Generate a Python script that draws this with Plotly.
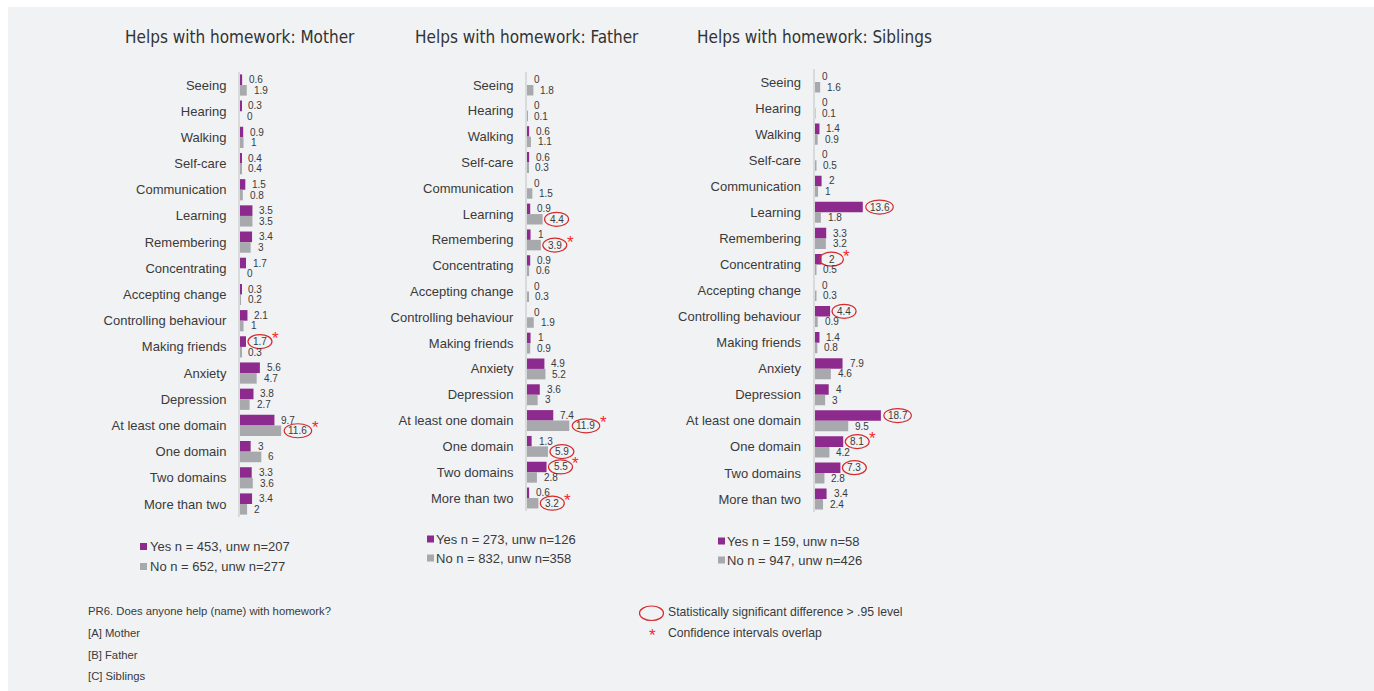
import plotly.graph_objects as go

# ---------------------------------------------------------------- data
categories = [
    "Seeing", "Hearing", "Walking", "Self-care", "Communication", "Learning",
    "Remembering", "Concentrating", "Accepting change", "Controlling behaviour",
    "Making friends", "Anxiety", "Depression", "At least one domain",
    "One domain", "Two domains", "More than two",
]

panel_titles = [
    "Helps with homework: Mother",
    "Helps with homework: Father",
    "Helps with homework: Siblings",
]

mother_yes = [0.6, 0.3, 0.9, 0.4, 1.5, 3.5, 3.4, 1.7, 0.3, 2.1, 1.7, 5.6, 3.8, 9.7, 3, 3.3, 3.4]
mother_no = [1.9, 0, 1, 0.4, 0.8, 3.5, 3, 0, 0.2, 1, 0.3, 4.7, 2.7, 11.6, 6, 3.6, 2]

father_yes = [0, 0, 0.6, 0.6, 0, 0.9, 1, 0.9, 0, 0, 1, 4.9, 3.6, 7.4, 1.3, 5.5, 0.6]
father_no = [1.8, 0.1, 1.1, 0.3, 1.5, 4.4, 3.9, 0.6, 0.3, 1.9, 0.9, 5.2, 3, 11.9, 5.9, 2.8, 3.2]

siblings_yes = [0, 0, 1.4, 0, 2, 13.6, 3.3, 2, 0, 4.4, 1.4, 7.9, 4, 18.7, 8.1, 7.3, 3.4]
siblings_no = [1.6, 0.1, 0.9, 0.5, 1, 1.8, 3.2, 0.5, 0.3, 0.9, 0.8, 4.6, 3, 9.5, 4.2, 2.8, 2.4]

legend_yes = ["Yes n = 453, unw n=207", "Yes n = 273, unw n=126", "Yes n = 159, unw n=58"]
legend_no = ["No n = 652, unw n=277", "No n = 832, unw n=358", "No n = 947, unw n=426"]

# significant differences (circled) and overlapping confidence intervals (starred)
mother_circled = [("Making friends", "Yes"), ("At least one domain", "No")]
mother_starred = [("Making friends", "Yes"), ("At least one domain", "No")]
father_circled = [("Learning", "No"), ("Remembering", "No"), ("At least one domain", "No"),
                  ("One domain", "No"), ("Two domains", "Yes"), ("More than two", "No")]
father_starred = [("Remembering", "No"), ("At least one domain", "No"),
                  ("Two domains", "Yes"), ("More than two", "No")]
siblings_circled = [("Learning", "Yes"), ("Concentrating", "Yes"), ("Controlling behaviour", "Yes"),
                    ("At least one domain", "Yes"), ("One domain", "Yes"), ("Two domains", "Yes")]
siblings_starred = [("Concentrating", "Yes"), ("One domain", "Yes")]

notes = [
    "PR6. Does anyone help (name) with homework?",
    "[A] Mother",
    "[B] Father",
    "[C] Siblings",
]
key_labels = ["Statistically significant difference > .95 level", "Confidence intervals overlap"]

# ---------------------------------------------------------------- style / geometry
W, H = 1374, 691
PURPLE = "#8d2a8d"
GREY = "#a8a9ad"
RED = "#d52a2e"
STAR_RED = "#f5282d"
TEXT = "#3a3a3a"
BG = "#f1f2f4"
FONT = "Liberation Sans, Arial, sans-serif"
TITLE_FONT = "Liberation Sans Narrow, DejaVu Sans Condensed, Roboto, sans-serif"

PX_PER_UNIT = 3.55
XMAX = 40
BARGAP = 0.19
HALF = (1 - BARGAP) / 4          # centre offset of each bar inside its group
LABEL_SHIFT = 5
VALUE_SIZE = 10

panels = [
    dict(yes=mother_yes, no=mother_no, circled=mother_circled, starred=mother_starred,
         left=240, first=85, last=504, leg_y=(546.5, 566.5), leg_sq=140, leg_tx=148),
    dict(yes=father_yes, no=father_no, circled=father_circled, starred=father_starred,
         left=527, first=85, last=498, leg_y=(539, 558), leg_sq=427, leg_tx=434),
    dict(yes=siblings_yes, no=siblings_no, circled=siblings_circled, starred=siblings_starred,
         left=814.5, first=82, last=499, leg_y=(541, 560), leg_sq=718, leg_tx=725),
]


def fx(px):
    return px / W


def fy(py):
    return 1 - py / H


def fmt(v):
    return f"{v:g}"


def text_width(s, size):
    widths = {".": 0.278, "-": 0.333}
    return sum(widths.get(c, 0.556) for c in s) * size


fig = go.Figure()
annotations = []
shapes = [
    dict(type="rect", xref="paper", yref="paper", x0=fx(8), x1=1, y0=0, y1=fy(7),
         fillcolor=BG, line=dict(width=0), layer="below"),
]

n = len(categories)
for k, p in enumerate(panels):
    sfx = "" if k == 0 else str(k + 1)
    xa, ya = "x" + sfx, "y" + sfx
    step = (p["last"] - p["first"]) / (n - 1)
    top, bottom = p["first"] - step / 2, p["last"] + step / 2

    fig.add_trace(go.Bar(y=categories, x=p["yes"], orientation="h", name="Yes",
                         marker=dict(color=PURPLE, line=dict(width=0)),
                         xaxis=xa, yaxis=ya, showlegend=False))
    fig.add_trace(go.Bar(y=categories, x=p["no"], orientation="h", name="No",
                         marker=dict(color=GREY, line=dict(width=0)),
                         xaxis=xa, yaxis=ya, showlegend=False))

    fig.update_layout({
        ("xaxis" + sfx): dict(domain=[fx(p["left"]), fx(p["left"] + XMAX * PX_PER_UNIT)],
                              range=[0, XMAX], anchor=ya, showgrid=False, zeroline=False,
                              showticklabels=False, showline=False, fixedrange=True),
        ("yaxis" + sfx): dict(domain=[fy(bottom), fy(top)], anchor=xa, type="category",
                              categoryorder="array", categoryarray=categories,
                              range=[n - 0.5, -0.5], showgrid=False, zeroline=False,
                              showline=True, linecolor="#d9dadc", linewidth=2,
                              ticks="", ticklabelstandoff=9,
                              tickfont=dict(family=FONT, size=13, color=TEXT)),
    })

    # value labels
    series = {"Yes": (p["yes"], -HALF), "No": (p["no"], HALF)}
    for name, (vals, off) in series.items():
        for i, v in enumerate(vals):
            annotations.append(dict(x=v, y=i + off, xref=xa, yref=ya, text=fmt(v),
                                    xanchor="left", yanchor="middle", xshift=LABEL_SHIFT,
                                    showarrow=False,
                                    font=dict(family=FONT, size=VALUE_SIZE, color=TEXT)))

    # ellipses around significant differences
    ell_right = {}
    for cat, name in p["circled"]:
        i = categories.index(cat)
        vals, off = series[name]
        v = vals[i]
        tw = text_width(fmt(v), VALUE_SIZE)
        cx = LABEL_SHIFT + 2 + tw / 2
        hw = max(12, tw / 2 + 4)
        ell_right[(cat, name)] = cx + hw
        shapes.append(dict(type="circle", xref=xa, yref=ya,
                           xsizemode="pixel", xanchor=v, x0=cx - hw, x1=cx + hw,
                           ysizemode="pixel", yanchor=i + off, y0=-7, y1=7,
                           line=dict(color=RED, width=1.2), fillcolor="rgba(0,0,0,0)"))

    # asterisks
    for cat, name in p["starred"]:
        i = categories.index(cat)
        vals, off = series[name]
        annotations.append(dict(x=vals[i], y=i + off, xref=xa, yref=ya, text="*",
                                xanchor="left", yanchor="middle",
                                xshift=ell_right[(cat, name)] - 2, yshift=3,
                                showarrow=False,
                                font=dict(family=FONT, size=17, color=STAR_RED)))

    # panel title
    annotations.append(dict(x=fx(p["left"]), y=fy(37), xref="paper", yref="paper",
                            text=panel_titles[k], xanchor="center", yanchor="middle",
                            showarrow=False,
                            font=dict(family=TITLE_FONT, size=17, color="#333333")))

    # series key under each panel
    for j, (label, color) in enumerate([(legend_yes[k], PURPLE), (legend_no[k], GREY)]):
        yc = p["leg_y"][j]
        shapes.append(dict(type="rect", xref="paper", yref="paper",
                           x0=fx(p["leg_sq"]), x1=fx(p["leg_sq"] + 7),
                           y0=fy(yc + 3.5), y1=fy(yc - 3.5),
                           fillcolor=color, line=dict(width=0)))
        annotations.append(dict(x=fx(p["leg_tx"]), y=fy(yc), xref="paper", yref="paper",
                                text=label, xanchor="left", yanchor="middle",
                                showarrow=False,
                                font=dict(family=FONT, size=13, color=TEXT)))

# question text
for j, (line, yc) in enumerate(zip(notes, [611, 633, 655, 676])):
    annotations.append(dict(x=fx(86), y=fy(yc), xref="paper", yref="paper", text=line,
                            xanchor="left", yanchor="middle", showarrow=False,
                            font=dict(family=FONT, size=11.3, color=TEXT)))

# significance key
shapes.append(dict(type="circle", xref="paper", yref="paper",
                   x0=fx(639.5), x1=fx(663.5), y0=fy(620.5), y1=fy(606),
                   line=dict(color=RED, width=1.2), fillcolor="rgba(0,0,0,0)"))
annotations.append(dict(x=fx(652), y=fy(632), xref="paper", yref="paper", text="*",
                        xanchor="center", yanchor="middle", yshift=-3, showarrow=False,
                        font=dict(family=FONT, size=17, color=STAR_RED)))
for label, yc in zip(key_labels, [611.5, 632.5]):
    annotations.append(dict(x=fx(665.5), y=fy(yc), xref="paper", yref="paper", text=label,
                            xanchor="left", yanchor="middle", showarrow=False,
                            font=dict(family=FONT, size=12.2, color=TEXT)))

fig.update_layout(
    width=W, height=H,
    margin=dict(l=0, r=0, t=0, b=0),
    paper_bgcolor="white",
    plot_bgcolor="rgba(0,0,0,0)",
    barmode="group", bargap=BARGAP, bargroupgap=0,
    showlegend=False,
    annotations=annotations,
    shapes=shapes,
    font=dict(family=FONT, color=TEXT),
)

fig.write_html("out.html")
